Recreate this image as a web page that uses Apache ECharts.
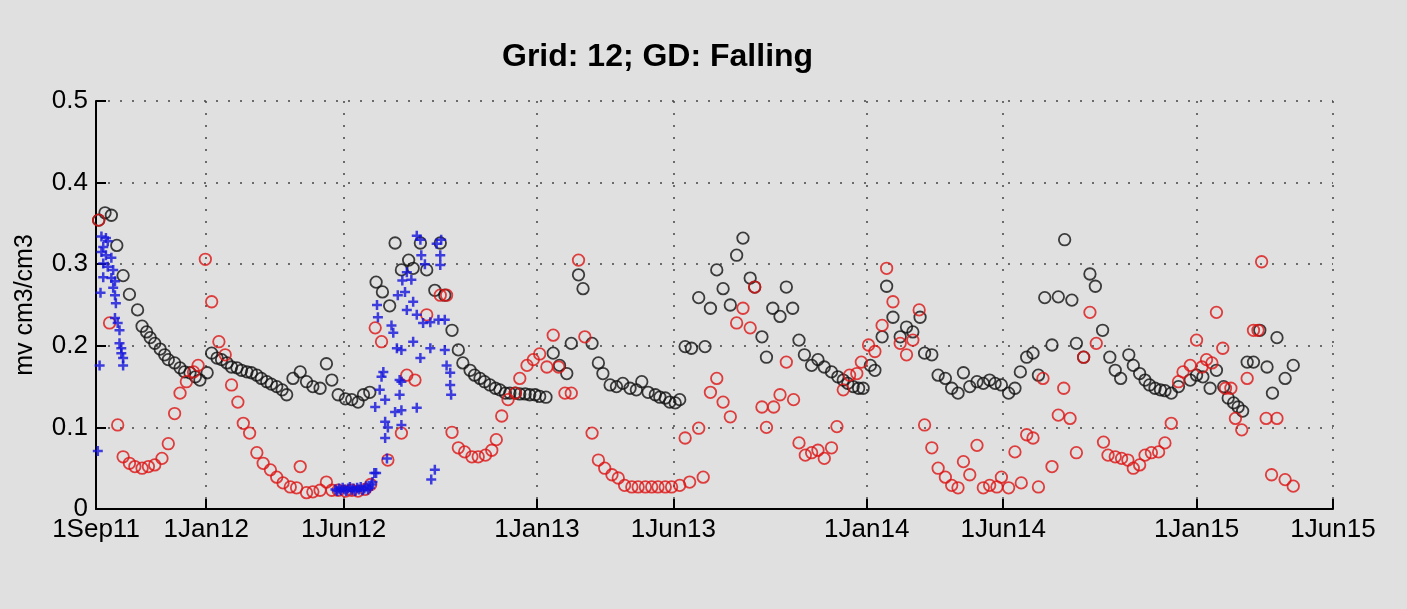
<!DOCTYPE html>
<html>
<head>
<meta charset="utf-8">
<script src="https://cdn.jsdelivr.net/npm/echarts@6/dist/echarts.min.js"></script>
<style>
  html, body { margin: 0; padding: 0; background: #e0e0e0; }
  #chart { width: 1407px; height: 609px; }
</style>
</head>
<body>
<div id="chart"></div>
<script>
// Soil moisture time series, grid cell 12. Each point is [day offset from 1 Sep 2011, value].
const START_DATE = '2011-09-01';

const seriesBlack = [
  [3,0.354],[10,0.363],[17,0.36],[23,0.323],[30,0.286],[37,0.263],[46,0.244],[51,0.224],[56,0.217],[60,0.21],
  [65,0.203],[71,0.196],[76,0.189],[80,0.183],[87,0.179],[93,0.173],[98,0.168],[104,0.167],[110,0.162],[115,0.158],
  [123,0.167],[128,0.191],[134,0.185],[139,0.183],[145,0.179],[150,0.174],[156,0.173],[161,0.17],[167,0.168],[172,0.167],
  [178,0.164],[183,0.16],[189,0.156],[194,0.153],[200,0.15],[206,0.146],[211,0.14],[218,0.16],[226,0.168],[233,0.156],
  [240,0.15],[248,0.148],[255,0.178],[261,0.158],[268,0.14],[276,0.135],[283,0.134],[290,0.131],[296,0.14],[303,0.143],
  [310,0.278],[317,0.266],[325,0.249],[331,0.326],[338,0.293],[346,0.305],[351,0.295],[359,0.326],[366,0.293],[375,0.268],
  [381,0.326],[386,0.262],[394,0.219],[401,0.195],[406,0.179],[414,0.17],[419,0.164],[425,0.16],[430,0.156],[436,0.152],
  [442,0.148],[447,0.146],[453,0.142],[458,0.142],[464,0.142],[469,0.141],[475,0.141],[480,0.14],[486,0.14],[491,0.138],
  [498,0.137],[506,0.191],[513,0.176],[521,0.166],[526,0.203],[534,0.287],[539,0.27],[549,0.203],[556,0.179],[561,0.166],
  [569,0.152],[576,0.15],[583,0.154],[591,0.148],[598,0.146],[604,0.156],[611,0.143],[619,0.14],[624,0.137],[630,0.136],
  [635,0.131],[641,0.13],[646,0.134],[652,0.199],[659,0.197],[667,0.259],[674,0.199],[680,0.246],[687,0.293],[694,0.27],
  [702,0.25],[709,0.311],[716,0.332],[724,0.283],[729,0.272],[737,0.211],[742,0.186],[749,0.246],[757,0.236],[764,0.272],
  [771,0.246],[778,0.207],[784,0.189],[792,0.176],[799,0.183],[806,0.174],[814,0.168],[821,0.162],[827,0.158],[832,0.154],
  [838,0.15],[844,0.148],[849,0.148],[857,0.176],[862,0.17],[870,0.211],[875,0.273],[882,0.235],[890,0.211],[897,0.223],
  [904,0.217],[912,0.235],[917,0.191],[925,0.189],[932,0.164],[940,0.16],[947,0.148],[954,0.142],[960,0.167],[967,0.15],
  [975,0.156],[982,0.154],[989,0.158],[995,0.154],[1002,0.152],[1010,0.142],[1017,0.148],[1023,0.168],[1030,0.186],[1037,0.191],
  [1043,0.164],[1050,0.259],[1058,0.201],[1065,0.26],[1072,0.33],[1080,0.256],[1085,0.203],[1093,0.186],[1100,0.288],[1106,0.273],
  [1114,0.219],[1122,0.186],[1128,0.17],[1134,0.16],[1143,0.189],[1148,0.176],[1155,0.166],[1161,0.158],[1166,0.152],[1172,0.148],
  [1178,0.146],[1183,0.145],[1190,0.142],[1198,0.15],[1211,0.158],[1218,0.164],[1225,0.162],[1233,0.148],[1240,0.17],[1248,0.15],
  [1253,0.136],[1259,0.13],[1264,0.125],[1269,0.12],[1274,0.18],[1281,0.18],[1288,0.219],[1296,0.174],[1302,0.142],[1307,0.21],
  [1316,0.16],[1325,0.176]
];

const seriesRed = [
  [3,0.354],[15,0.228],[24,0.103],[30,0.064],[37,0.056],[43,0.052],[51,0.05],[58,0.052],[65,0.054],[73,0.062],
  [80,0.08],[87,0.117],[93,0.142],[100,0.156],[108,0.168],[113,0.176],[121,0.306],[128,0.254],[136,0.205],[143,0.189],
  [150,0.152],[157,0.131],[163,0.105],[170,0.093],[178,0.069],[185,0.056],[193,0.048],[200,0.039],[207,0.032],[215,0.027],
  [222,0.026],[226,0.052],[233,0.02],[240,0.021],[248,0.023],[255,0.033],[261,0.023],[268,0.023],[276,0.022],[283,0.023],
  [290,0.022],[298,0.024],[304,0.03],[309,0.222],[316,0.205],[323,0.06],[338,0.093],[344,0.164],[353,0.158],[366,0.238],
  [381,0.262],[388,0.262],[394,0.094],[401,0.075],[408,0.07],[416,0.064],[423,0.064],[431,0.066],[438,0.072],[443,0.085],
  [449,0.114],[456,0.134],[464,0.142],[469,0.16],[477,0.176],[484,0.183],[491,0.19],[499,0.174],[506,0.213],[512,0.174],
  [519,0.142],[526,0.142],[534,0.305],[541,0.211],[549,0.093],[556,0.06],[563,0.05],[571,0.042],[578,0.038],[585,0.029],
  [593,0.027],[600,0.027],[608,0.027],[615,0.027],[622,0.027],[630,0.027],[637,0.027],[646,0.029],[652,0.087],[657,0.033],
  [667,0.099],[672,0.039],[680,0.143],[687,0.16],[694,0.131],[702,0.113],[709,0.228],[716,0.246],[724,0.222],[729,0.272],
  [737,0.125],[742,0.1],[750,0.125],[757,0.14],[764,0.18],[772,0.134],[778,0.081],[785,0.066],[792,0.069],[799,0.072],
  [806,0.062],[814,0.075],[820,0.101],[827,0.146],[834,0.164],[842,0.166],[847,0.18],[855,0.201],[862,0.193],[870,0.225],
  [875,0.295],[882,0.254],[890,0.203],[897,0.189],[904,0.207],[911,0.244],[917,0.103],[925,0.075],[932,0.05],[940,0.039],
  [947,0.029],[954,0.026],[960,0.058],[967,0.042],[975,0.078],[982,0.026],[989,0.029],[997,0.027],[1002,0.039],[1010,0.026],
  [1017,0.07],[1024,0.032],[1030,0.091],[1037,0.087],[1043,0.027],[1048,0.16],[1058,0.052],[1065,0.115],[1071,0.148],[1078,0.111],
  [1085,0.069],[1093,0.186],[1100,0.241],[1107,0.203],[1115,0.082],[1120,0.066],[1128,0.064],[1135,0.062],[1142,0.06],[1148,0.05],
  [1155,0.054],[1161,0.066],[1168,0.069],[1176,0.07],[1183,0.081],[1190,0.105],[1198,0.156],[1203,0.168],[1211,0.176],[1218,0.207],
  [1224,0.174],[1229,0.183],[1235,0.179],[1240,0.241],[1247,0.197],[1250,0.148],[1256,0.148],[1261,0.111],[1268,0.097],[1274,0.16],
  [1281,0.219],[1286,0.219],[1290,0.303],[1295,0.111],[1301,0.042],[1307,0.111],[1316,0.036],[1325,0.028]
];

const seriesBlue = [
  [2,0.071],[4,0.176],[5,0.265],[6,0.334],[6,0.315],[8,0.321],[8,0.301],[8,0.284],[11,0.332],[11,0.311],
  [13,0.328],[13,0.297],[17,0.308],[17,0.283],[19,0.293],[19,0.271],[21,0.279],[21,0.262],[22,0.252],[21,0.234],
  [24,0.228],[26,0.219],[26,0.203],[28,0.197],[28,0.191],[30,0.185],[30,0.176],
  [265,0.024],[267,0.022],[269,0.025],[271,0.023],[273,0.026],[275,0.024],[277,0.022],[279,0.025],[281,0.027],[283,0.023],
  [285,0.025],[287,0.022],[289,0.026],[291,0.024],[293,0.027],[295,0.023],[297,0.025],[299,0.028],[301,0.024],[303,0.026],
  [305,0.03],[306,0.033],[308,0.044],[310,0.044],[309,0.125],[311,0.25],[312,0.235],[314,0.146],[316,0.162],[318,0.168],
  [320,0.087],[320,0.107],[320,0.134],[322,0.062],[323,0.1],[327,0.225],[329,0.216],[331,0.119],[333,0.197],[334,0.262],
  [336,0.158],[336,0.14],[338,0.121],[338,0.103],[338,0.156],[338,0.195],[339,0.28],[342,0.266],[344,0.29],[344,0.244],
  [349,0.281],[351,0.254],[351,0.205],[355,0.238],[355,0.124],[355,0.335],[359,0.33],[359,0.185],[360,0.311],[362,0.228],
  [364,0.3],[370,0.229],[370,0.197],[371,0.036],[375,0.048],[377,0.325],[379,0.232],[381,0.311],[381,0.299],[382,0.33],
  [386,0.232],[386,0.195],[388,0.176],[392,0.167],[392,0.152],[393,0.14]
];

// Axis ticks on the date axis
const tickDates = ['2011-09-01','2012-01-01','2012-06-01','2013-01-01','2013-06-01','2014-01-01','2014-06-01','2015-01-01','2015-06-01'];
const tickLabels = ['1Sep11','1Jan12','1Jun12','1Jan13','1Jun13','1Jan14','1Jun14','1Jan15','1Jun15'];

const DAY_MS = 86400000;
const startMs = Date.parse(START_DATE + 'T00:00:00Z');
const tickValues = tickDates.map(d => Date.parse(d + 'T00:00:00Z'));
const toTime = pts => pts.map(([d, v]) => [startMs + d * DAY_MS, v]);

const FONT = '"Liberation Sans", Arial, Helvetica, sans-serif';
const plusPath = 'path://M3.75,0H6.25V3.75H10V6.25H6.25V10H3.75V6.25H0V3.75H3.75Z';
const gridDots = { color: '#444', width: 1.5, type: [2, 10] };

const chart = echarts.init(document.getElementById('chart'));
chart.setOption({
  animation: false,
  backgroundColor: '#e0e0e0',
  title: {
    text: 'Grid: 12; GD: Falling',
    left: 497,
    top: 36,
    textStyle: { fontFamily: FONT, fontSize: 32, fontWeight: 'bold', color: '#000' }
  },
  grid: { left: 96, right: 74, top: 101, bottom: 100 },
  xAxis: {
    type: 'value',
    min: tickValues[0],
    max: tickValues[tickValues.length - 1],
    axisLine: { show: true, onZero: false, lineStyle: { color: '#000', width: 2 } },
    axisTick: { show: true, inside: true, length: 10, lineStyle: { color: '#000', width: 2 }, customValues: tickValues },
    axisLabel: {
      customValues: tickValues,
      margin: 8,
      fontFamily: FONT, fontSize: 26, color: '#000',
      formatter: v => { const i = tickValues.indexOf(v); return i >= 0 ? tickLabels[i] : ''; }
    },
    splitLine: { show: true, lineStyle: gridDots }
  },
  yAxis: {
    type: 'value',
    min: 0, max: 0.5, interval: 0.1,
    name: 'mv cm3/cm3',
    nameLocation: 'middle',
    nameGap: 58,
    nameTextStyle: { fontFamily: FONT, fontSize: 25, color: '#000' },
    axisLine: { show: true, lineStyle: { color: '#000', width: 2 } },
    axisTick: { show: true, inside: true, length: 10, lineStyle: { color: '#000', width: 2 } },
    axisLabel: { margin: 8, fontFamily: FONT, fontSize: 26, color: '#000' },
    splitLine: { show: true, lineStyle: gridDots }
  },
  series: [
    {
      type: 'scatter', data: toTime(seriesBlack), symbol: 'circle', symbolSize: 11.5,
      itemStyle: { color: 'rgba(0,0,0,0)', borderColor: '#111', borderWidth: 1.8 }
    },
    {
      type: 'scatter', data: toTime(seriesRed), symbol: 'circle', symbolSize: 11.5,
      itemStyle: { color: 'rgba(0,0,0,0)', borderColor: '#dd1414', borderWidth: 1.8 }
    },
    {
      type: 'scatter', data: toTime(seriesBlue), symbol: plusPath, symbolSize: 10,
      itemStyle: { color: '#1414dd' }
    }
  ]
});
</script>
</body>
</html>
